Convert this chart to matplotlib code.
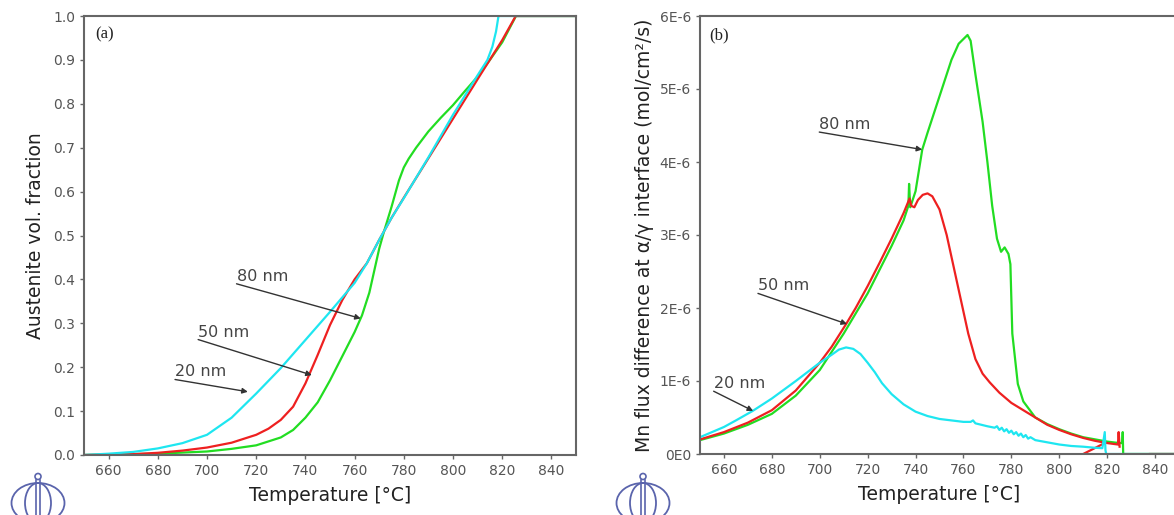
import numpy as np
import matplotlib
matplotlib.use("Agg")
import matplotlib.pyplot as plt
from matplotlib.patches import Ellipse, Circle

plt.rcParams['font.family'] = ['DejaVu Sans']

# ---- data: (a) austenite volume fraction vs temperature
T20_a = [650, 660, 670, 680, 690, 700, 710, 720, 730, 740, 750, 760, 765, 770, 775,
         780, 790, 800, 810, 814, 816, 817.5, 818.5, 850]
f20_a = [0.0, 0.003, 0.007, 0.015, 0.027, 0.046, 0.085, 0.14, 0.198, 0.262, 0.326, 0.392,
         0.437, 0.49, 0.54, 0.585, 0.678, 0.775, 0.865, 0.9, 0.93, 0.965, 1.0, 1.0]
T50_a = [650, 670, 680, 690, 700, 710, 720, 725, 730, 735, 740, 745, 750, 755, 760, 765,
         770, 775, 780, 790, 800, 810, 820, 825.5, 850]
f50_a = [0.0, 0.002, 0.005, 0.01, 0.017, 0.028, 0.046, 0.06, 0.08, 0.11, 0.163, 0.228,
         0.296, 0.353, 0.4, 0.437, 0.49, 0.54, 0.586, 0.676, 0.766, 0.856, 0.945, 1.0, 1.0]
T80_a = [650, 680, 700, 710, 720, 730, 735, 740, 745, 750, 755, 760, 763, 766, 768, 770,
         772, 775, 778, 780, 782, 785, 790, 795, 800, 805, 810, 815, 820, 825.6, 850]
f80_a = [0.0, 0.003, 0.008, 0.014, 0.022, 0.04, 0.057, 0.085, 0.12, 0.17, 0.225, 0.28,
         0.318, 0.37, 0.42, 0.47, 0.51, 0.565, 0.625, 0.655, 0.675, 0.7, 0.737, 0.768,
         0.797, 0.83, 0.862, 0.9, 0.94, 1.0, 1.0]

# ---- data: (b) Mn flux difference (units of 1E-6 mol/cm2/s)
T20_b = [650, 660, 665, 672, 680, 690, 700, 705, 708, 711, 714, 717, 720, 723, 726, 730,
         735, 740, 745, 750, 755, 760, 763, 764, 765, 770, 773, 774, 775, 776, 777, 778,
         779, 780, 781, 782, 783, 784, 785, 786, 787, 788, 790, 795, 800, 805,
         810, 815, 818, 819, 819.3, 819.6, 850]
j20_b = [0.23, 0.37, 0.46, 0.59, 0.76, 1.0, 1.25, 1.36, 1.43, 1.46, 1.44, 1.37, 1.25,
         1.12, 0.97, 0.82, 0.68, 0.58, 0.52, 0.48, 0.46, 0.44, 0.44, 0.46, 0.42, 0.38,
         0.36, 0.38, 0.33, 0.36, 0.31, 0.34, 0.29, 0.32, 0.27, 0.3, 0.25, 0.28, 0.23,
         0.26, 0.21, 0.23, 0.19, 0.16, 0.13, 0.11, 0.1, 0.085, 0.08, 0.3, 0.05, 0.0, 0.0]
T50_b = [650, 660, 670, 680, 690, 700, 705, 711, 715, 720, 725, 730, 735, 737.5, 738.2,
         739.5, 741, 743, 745, 747, 750, 753, 756, 759, 762, 765, 768, 771, 775, 780, 785,
         790, 795, 800, 805, 810, 815, 820, 824.5, 824.8, 825.2]
j50_b = [0.2, 0.3, 0.43, 0.6, 0.87, 1.25, 1.47, 1.78, 2.0, 2.3, 2.62, 2.95, 3.3, 3.5, 3.4,
         3.38, 3.48, 3.55, 3.57, 3.53, 3.35, 3.0, 2.55, 2.1, 1.65, 1.3, 1.1, 0.98, 0.84,
         0.7, 0.6, 0.5, 0.4, 0.33, 0.27, 0.22, 0.18, 0.15, 0.13, 0.3, 0.1]
T50_tail = [810, 819]
j50_tail = [0.0, 0.15]
T50_base = [838, 850]
j50_base = [0.0, 0.0]
T80_b = [650, 660, 670, 680, 690, 700, 705, 710, 720, 730, 735, 737, 737.3, 737.8, 740,
         742.8, 745, 748, 751.7, 755, 758, 761.7, 763, 765, 768, 770, 772, 774, 775.7,
         777.2, 778.8, 779.6, 780.4, 782.7, 785, 790, 795, 800, 805, 810, 815, 820, 825,
         826.3, 826.5, 826.7, 850]
j80_b = [0.19, 0.28, 0.4, 0.55, 0.8, 1.15, 1.4, 1.65, 2.2, 2.85, 3.2, 3.4, 3.7, 3.38, 3.6,
         4.17, 4.4, 4.7, 5.07, 5.4, 5.62, 5.74, 5.66, 5.2, 4.55, 4.0, 3.4, 2.95, 2.77,
         2.83, 2.74, 2.6, 1.65, 0.96, 0.72, 0.5, 0.41, 0.34, 0.28, 0.23, 0.2, 0.17, 0.15,
         0.15, 0.3, 0.0, 0.0]

xticks = [660, 680, 700, 720, 740, 760, 780, 800, 820, 840]
yticks_a = [0.0, 0.1, 0.2, 0.3, 0.4, 0.5, 0.6, 0.7, 0.8, 0.9, 1.0]
yticks_b = [0, 1, 2, 3, 4, 5, 6]
ylabels_b = ['0E0', '1E-6', '2E-6', '3E-6', '4E-6', '5E-6', '6E-6']

c20 = '#1ee6f0'
c50 = '#ee2020'
c80 = '#22dd22'
lw = 1.6

fig = plt.figure(figsize=(11.74, 5.15), dpi=100)
ax1 = fig.add_axes([84 / 1174, 60 / 515, 492 / 1174, 439 / 515])
ax2 = fig.add_axes([700 / 1174, 61 / 515, 479 / 1174, 438 / 515])


def style(ax):
    for s in ax.spines.values():
        s.set_color('#666666')
        s.set_linewidth(1.5)
    ax.tick_params(direction='out', length=3, width=1, color='#666666',
                   labelcolor='#555555', labelsize=10)
    ax.set_xlim(650, 850)
    ax.set_xticks(xticks)
    ax.set_xlabel('Temperature [°C]', fontsize=13.5, color='#222222', labelpad=6)


def arrow(ax, text, tail, head):
    ax.annotate('', xy=head, xytext=tail,
                arrowprops=dict(arrowstyle='-|>', color='#333333', lw=1.0,
                                mutation_scale=8, shrinkA=0, shrinkB=0))
    ax.text(tail[0], tail[1], text, fontsize=11.5, color='#444444',
            ha='left', va='bottom')


# (a)
ax1.plot(T80_a, f80_a, color=c80, lw=lw)
ax1.plot(T50_a, f50_a, color=c50, lw=lw)
ax1.plot(T20_a, f20_a, color=c20, lw=lw)
ax1.set_ylim(0, 1.0)
ax1.set_yticks(yticks_a)
ax1.set_yticklabels(['%.1f' % v for v in yticks_a])
ax1.set_ylabel('Austenite vol. fraction', fontsize=13.5, color='#222222', labelpad=6)
style(ax1)
ax1.text(654.5, 0.957, '(a)', family='Liberation Serif', fontsize=12,
         color='#222222', va='center')
arrow(ax1, '80 nm', (712, 0.39), (762.5, 0.311))
arrow(ax1, '50 nm', (696.4, 0.263), (742.6, 0.182))
arrow(ax1, '20 nm', (687, 0.172), (716.6, 0.144))

# (b)
ax2.plot(T80_b, j80_b, color=c80, lw=lw)
ax2.plot(T50_b, j50_b, color=c50, lw=lw)
ax2.plot(T50_tail, j50_tail, color=c50, lw=lw)
ax2.plot(T50_base, j50_base, color=c50, lw=lw)
ax2.plot(T20_b, j20_b, color=c20, lw=lw)
ax2.set_ylim(0, 6)
ax2.set_yticks(yticks_b)
ax2.set_yticklabels(ylabels_b)
ax2.set_ylabel('Mn flux difference at α/γ interface (mol/cm²/s)', fontsize=13.5,
               color='#222222', labelpad=4)
style(ax2)
ax2.text(654, 5.74, '(b)', family='Liberation Serif', fontsize=12,
         color='#222222', va='center')
arrow(ax2, '80 nm', (699.8, 4.41), (742.8, 4.17))
arrow(ax2, '50 nm', (674.2, 2.2), (711.4, 1.78))
arrow(ax2, '20 nm', (655.7, 0.86), (672.2, 0.59))


# institute logos, bottom left of each panel
def logo(cx):
    lax = fig.add_axes([(cx - 30) / 1174, 0, 60 / 1174, 45 / 515])
    lax.set_xlim(0, 60)
    lax.set_ylim(0, 45)
    lax.axis('off')
    col = '#5a64ac'
    lax.add_patch(Ellipse((30, 12), 53, 40, fill=False, ec=col, lw=1.3))
    lax.add_patch(Ellipse((30, 12), 26, 40, fill=False, ec=col, lw=1.3))
    lax.plot([28, 28], [0, 35], color=col, lw=1.2)
    lax.plot([32, 32], [0, 35], color=col, lw=1.2)
    lax.add_patch(Circle((30, 38.5), 3, fill=False, ec=col, lw=1.2))


logo(38)
logo(643)

fig.savefig('out.png', dpi=100)
